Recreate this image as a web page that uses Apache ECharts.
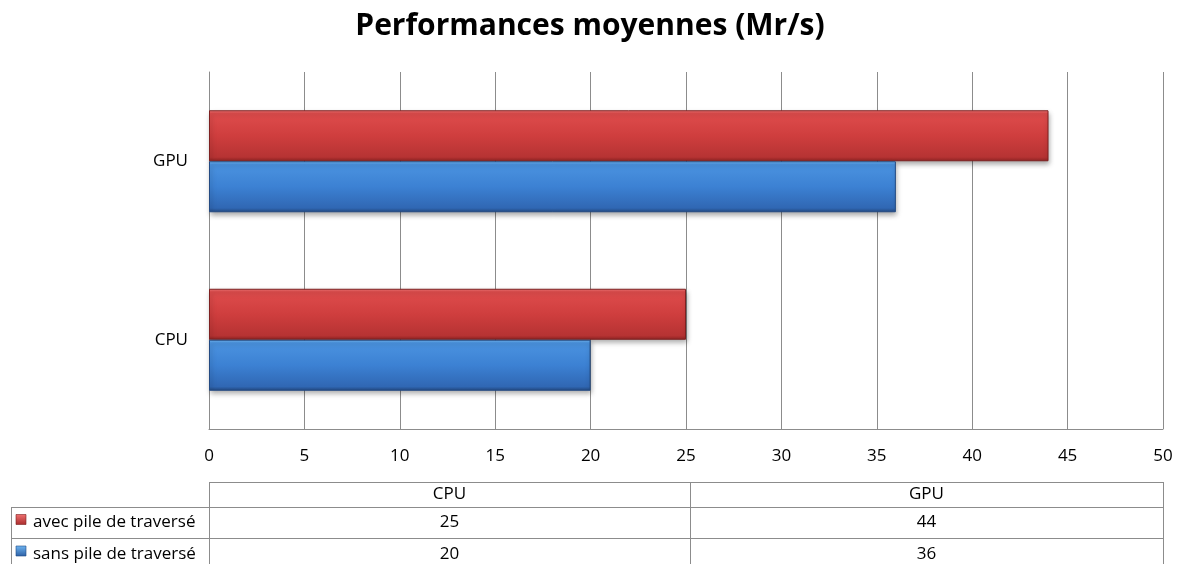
<!DOCTYPE html>
<html>
<head>
<meta charset="utf-8">
<script src="https://cdn.jsdelivr.net/npm/echarts@6/dist/echarts.min.js"></script>
<style>
  html, body { margin: 0; padding: 0; background: #fff; }
  #chart { width: 1180px; height: 564px; }
</style>
</head>
<body>
<div id="chart"></div>
<script>
// Average throughput, millions of rays per second
const titleText = 'Performances moyennes (Mr/s)';
const categories = ['CPU', 'GPU'];
const seriesNames = ['avec pile de traversé', 'sans pile de traversé'];
const avecPile = [25, 44];
const sansPile = [20, 36];
const axisMin = 0;
const axisMax = 50;
const axisStep = 5;

const FONT = 'Open Sans';
const TEXT_SIZE = 17;

const redFill = new echarts.graphic.LinearGradient(0, 0, 0, 1, [
  { offset: 0, color: '#f27b7b' },
  { offset: 0.06, color: '#de4c4c' },
  { offset: 0.5, color: '#cf3e3e' },
  { offset: 0.92, color: '#b63333' },
  { offset: 1, color: '#8f2424' }
]);
const blueFill = new echarts.graphic.LinearGradient(0, 0, 0, 1, [
  { offset: 0, color: '#74bdf7' },
  { offset: 0.06, color: '#4b93e0' },
  { offset: 0.5, color: '#3c81d3' },
  { offset: 0.92, color: '#3067b3' },
  { offset: 1, color: '#23487f' }
]);

const chart = echarts.init(document.getElementById('chart'), null, { renderer: 'canvas' });

// Data table under the chart
const tbl = {
  left: 11, keyCol: 209, split: 690, right: 1163,
  rows: [482, 507, 538, 570]
};
const lineStyle = { stroke: '#8c8c8c', lineWidth: 1 };
const g = [];
function hline(x1, x2, y) {
  g.push({ type: 'line', shape: { x1, y1: y + 0.5, x2, y2: y + 0.5 }, style: lineStyle, silent: true });
}
function vline(x, y1, y2) {
  g.push({ type: 'line', shape: { x1: x + 0.5, y1, x2: x + 0.5, y2 }, style: lineStyle, silent: true });
}
function text(str, x, y, align) {
  g.push({ type: 'text', x, y, style: { text: str, fill: '#000', font: TEXT_SIZE + 'px "' + FONT + '"', align, verticalAlign: 'middle' }, silent: true });
}
hline(tbl.keyCol, tbl.right, tbl.rows[0]);
hline(tbl.left, tbl.right, tbl.rows[1]);
hline(tbl.left, tbl.right, tbl.rows[2]);
hline(tbl.left, tbl.right, tbl.rows[3]);
vline(tbl.left, tbl.rows[1], tbl.rows[3]);
vline(tbl.keyCol, tbl.rows[0], tbl.rows[3]);
vline(tbl.split, tbl.rows[0], tbl.rows[3]);
vline(tbl.right, tbl.rows[0], tbl.rows[3]);

const colCenters = [(tbl.keyCol + tbl.split) / 2, (tbl.split + tbl.right) / 2];
categories.forEach((c, i) => text(c, colCenters[i], (tbl.rows[0] + tbl.rows[1]) / 2, 'center'));
[avecPile, sansPile].forEach((vals, r) => {
  const yMid = (tbl.rows[r + 1] + tbl.rows[r + 2]) / 2;
  g.push({
    type: 'rect', shape: { x: 16, y: yMid - 8, width: 10, height: 10 },
    style: {
      fill: new echarts.graphic.LinearGradient(0, 0, 0, 1, [
        { offset: 0, color: r === 0 ? '#f07070' : '#6fb5f2' },
        { offset: 1, color: r === 0 ? '#a82c2c' : '#2c5fa4' }
      ]),
      stroke: r === 0 ? '#7a1e1e' : '#1f4a85', lineWidth: 0.6
    }, silent: true
  });
  text(seriesNames[r], 33, yMid, 'left');
  vals.forEach((v, i) => text(String(v), colCenters[i], yMid, 'center'));
});

const barStyle = (fill, edge) => ({
  color: fill,
  borderColor: edge,
  borderWidth: 1,
  shadowColor: 'rgba(0,0,0,0.35)',
  shadowBlur: 5,
  shadowOffsetX: 1,
  shadowOffsetY: 3
});

chart.setOption({
  animation: false,
  backgroundColor: '#fff',
  title: {
    text: titleText,
    left: 'center',
    top: 6,
    textStyle: { fontFamily: FONT, fontWeight: 'bold', fontSize: 30, color: '#000' }
  },
  grid: { left: 209, right: 17, top: 72, bottom: 135, containLabel: false },
  xAxis: {
    type: 'value',
    min: axisMin, max: axisMax, interval: axisStep,
    axisLine: { show: true, lineStyle: { color: '#8c8c8c', width: 1 } },
    axisTick: { show: false },
    splitLine: { show: true, lineStyle: { color: '#8c8c8c', width: 1 } },
    axisLabel: { color: '#000', fontFamily: FONT, fontSize: TEXT_SIZE, margin: 19 }
  },
  yAxis: {
    type: 'category',
    data: categories,
    axisLine: { show: true, lineStyle: { color: '#8c8c8c', width: 1 } },
    axisTick: { show: false },
    axisLabel: { color: '#000', fontFamily: FONT, fontSize: TEXT_SIZE, margin: 21 }
  },
  series: [
    {
      name: seriesNames[0], type: 'bar', data: avecPile,
      barWidth: 51, barGap: '0%',
      itemStyle: barStyle(redFill, '#7e2020')
    },
    {
      name: seriesNames[1], type: 'bar', data: sansPile,
      barWidth: 51, barGap: '0%',
      itemStyle: barStyle(blueFill, '#234a82')
    }
  ],
  graphic: g
});
</script>
</body>
</html>
